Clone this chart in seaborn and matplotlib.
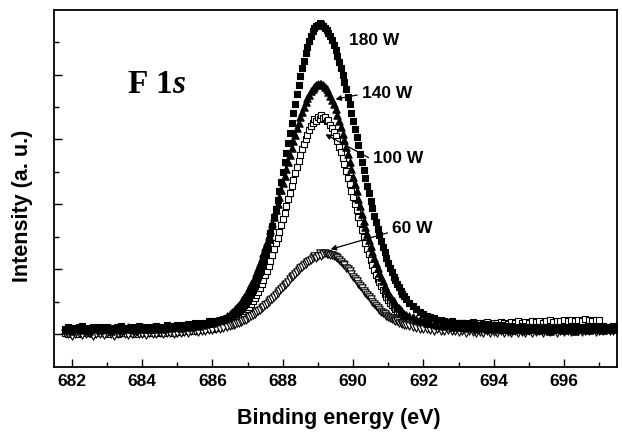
#!/usr/bin/env python3
"""F 1s XPS spectra for films deposited at different RF powers."""

import matplotlib

matplotlib.use("Agg")
import matplotlib.pyplot as plt
import numpy as np
import pandas as pd
import seaborn as sns

nan = np.nan

# binding energy grid (eV): 0.1 eV in the tails, 0.05 eV across the peak
ENERGY = [
    681.8, 681.9, 682.0, 682.1, 682.2, 682.3, 682.4, 682.5, 682.6, 682.7,
    682.8, 682.9, 683.0, 683.1, 683.2, 683.3, 683.4, 683.5, 683.6, 683.7,
    683.8, 683.9, 684.0, 684.1, 684.2, 684.3, 684.4, 684.5, 684.6, 684.7,
    684.8, 684.9, 685.0, 685.1, 685.2, 685.3, 685.4, 685.5, 685.6, 685.7,
    685.8, 685.9, 686.0, 686.1, 686.2, 686.3, 686.4,
    686.50, 686.55, 686.60, 686.65, 686.70, 686.75, 686.80, 686.85, 686.90, 686.95,
    687.00, 687.05, 687.10, 687.15, 687.20, 687.25, 687.30, 687.35, 687.40, 687.45,
    687.50, 687.55, 687.60, 687.65, 687.70, 687.75, 687.80, 687.85, 687.90, 687.95,
    688.00, 688.05, 688.10, 688.15, 688.20, 688.25, 688.30, 688.35, 688.40, 688.45,
    688.50, 688.55, 688.60, 688.65, 688.70, 688.75, 688.80, 688.85, 688.90, 688.95,
    689.00, 689.05, 689.10, 689.15, 689.20, 689.25, 689.30, 689.35, 689.40, 689.45,
    689.50, 689.55, 689.60, 689.65, 689.70, 689.75, 689.80, 689.85, 689.90, 689.95,
    690.00, 690.05, 690.10, 690.15, 690.20, 690.25, 690.30, 690.35, 690.40, 690.45,
    690.50, 690.55, 690.60, 690.65, 690.70, 690.75, 690.80, 690.85, 690.90, 690.95,
    691.00, 691.05, 691.10, 691.15, 691.20, 691.25, 691.30, 691.35, 691.40, 691.45,
    691.50,
    691.6, 691.7, 691.8, 691.9, 692.0, 692.1, 692.2, 692.3, 692.4, 692.5,
    692.6, 692.7, 692.8, 692.9, 693.0, 693.1, 693.2, 693.3, 693.4, 693.5,
    693.6, 693.7, 693.8, 693.9, 694.0, 694.1, 694.2, 694.3, 694.4, 694.5,
    694.6, 694.7, 694.8, 694.9, 695.0, 695.1, 695.2, 695.3, 695.4, 695.5,
    695.6, 695.7, 695.8, 695.9, 696.0, 696.1, 696.2, 696.3, 696.4, 696.5,
    696.6, 696.7, 696.8, 696.9, 697.0, 697.1, 697.2, 697.3, 697.4, 697.5,
]

I_180W = [
    0.09, 0.12, 0.10, 0.08, 0.11, 0.13, 0.09, 0.10, 0.12, 0.08,
    0.11, 0.09, 0.12, 0.10, 0.08, 0.11, 0.13, 0.10, 0.09, 0.12,
    0.10, 0.13, 0.11, 0.09, 0.12, 0.10, 0.13, 0.12, 0.10, 0.14,
    0.12, 0.13, 0.15, 0.13, 0.14, 0.16, 0.15, 0.17, 0.16, 0.18,
    0.18, 0.20, 0.20, 0.21, 0.22, 0.24, 0.26,
    0.28, 0.29, 0.31, 0.32, 0.34, 0.36, 0.39, 0.42, 0.45, 0.49,
    0.53, 0.58, 0.63, 0.68, 0.74, 0.81, 0.88, 0.96, 1.05, 1.14,
    1.23, 1.33, 1.45, 1.56, 1.67, 1.80, 1.93, 2.07, 2.21, 2.35,
    2.50, 2.65, 2.79, 2.95, 3.10, 3.25, 3.41, 3.55, 3.70, 3.84,
    3.97, 4.10, 4.21, 4.33, 4.43, 4.51, 4.60, 4.67, 4.71, 4.74,
    4.76, 4.79, 4.77, 4.75, 4.72, 4.69, 4.64, 4.60, 4.53, 4.46,
    4.37, 4.29, 4.20, 4.10, 3.99, 3.89, 3.78, 3.66, 3.54, 3.41,
    3.29, 3.16, 3.04, 2.91, 2.78, 2.65, 2.53, 2.41, 2.29, 2.17,
    2.06, 1.94, 1.83, 1.73, 1.63, 1.53, 1.44, 1.35, 1.27, 1.18,
    1.10, 1.03, 0.96, 0.89, 0.84, 0.78, 0.73, 0.67, 0.63, 0.59,
    0.55,
    0.49, 0.44, 0.39, 0.35, 0.31, 0.29, 0.27, 0.25, 0.23, 0.22,
    0.21, 0.19, 0.20, 0.18, 0.17, 0.18, 0.16, 0.15, 0.17, 0.15,
    0.14, 0.16, 0.13, 0.15, 0.14, 0.12, 0.14, 0.13, 0.11, 0.13,
    0.12, 0.10, 0.13, 0.11, 0.12, 0.10, 0.12, 0.11, 0.09, 0.12,
    0.10, 0.12, 0.11, 0.09, 0.12, 0.10, 0.13, 0.11, 0.10, 0.12,
    0.11, 0.13, 0.10, 0.12, 0.11, 0.13, 0.10, 0.12, 0.13, 0.11,
]

I_140W = [
    0.07, 0.09, 0.06, 0.08, 0.10, 0.07, 0.09, 0.06, 0.08, 0.10,
    0.07, 0.09, 0.08, 0.06, 0.10, 0.08, 0.07, 0.09, 0.11, 0.08,
    0.07, 0.09, 0.10, 0.08, 0.09, 0.11, 0.08, 0.10, 0.09, 0.11,
    0.10, 0.12, 0.11, 0.10, 0.12, 0.13, 0.12, 0.14, 0.13, 0.15,
    0.16, 0.17, 0.18, 0.20, 0.22, 0.24, 0.28,
    0.32, 0.34, 0.36, 0.39, 0.42, 0.45, 0.49, 0.53, 0.57, 0.61,
    0.66, 0.72, 0.77, 0.83, 0.89, 0.95, 1.02, 1.10, 1.17, 1.25,
    1.34, 1.43, 1.52, 1.61, 1.71, 1.80, 1.91, 2.01, 2.12, 2.23,
    2.33, 2.44, 2.55, 2.66, 2.76, 2.87, 2.97, 3.07, 3.17, 3.26,
    3.35, 3.43, 3.50, 3.57, 3.64, 3.69, 3.75, 3.78, 3.81, 3.84,
    3.85, 3.86, 3.85, 3.84, 3.81, 3.78, 3.73, 3.67, 3.61, 3.54,
    3.47, 3.38, 3.29, 3.19, 3.09, 2.99, 2.88, 2.77, 2.65, 2.54,
    2.43, 2.31, 2.20, 2.08, 1.97, 1.86, 1.75, 1.65, 1.55, 1.45,
    1.36, 1.27, 1.18, 1.10, 1.02, 0.95, 0.88, 0.82, 0.75, 0.70,
    0.64, 0.59, 0.55, 0.51, 0.47, 0.43, 0.40, 0.37, 0.34, 0.32,
    0.30,
    0.29, 0.27, 0.24, 0.22, 0.20, 0.18, 0.17, 0.16, 0.15, 0.15,
    0.13, 0.14, 0.12, 0.13, 0.11, 0.12, 0.10, 0.12, 0.11, 0.09,
    0.11, 0.10, 0.08, 0.10, 0.09, 0.11, 0.08, 0.09, 0.10, 0.07,
    0.09, 0.08, 0.10, 0.07, 0.09, 0.08, 0.10, 0.07, 0.09, 0.08,
    0.06, 0.09, 0.08, 0.10, 0.07, 0.09, 0.08, 0.06, 0.09, 0.08,
    0.10, 0.07, 0.09, 0.08, 0.10, 0.07, 0.09, 0.08, 0.10, 0.09,
]

I_100W = [
    0.03, 0.01, 0.04, 0.02, 0.00, 0.03, 0.05, 0.02, 0.01, 0.04,
    0.02, 0.03, 0.00, 0.04, 0.02, 0.01, 0.03, 0.05, 0.02, 0.03,
    0.01, 0.04, 0.03, 0.02, 0.05, 0.03, 0.02, 0.04, 0.03, 0.05,
    0.04, 0.03, 0.05, 0.04, 0.06, 0.05, 0.07, 0.06, 0.07, 0.08,
    0.08, 0.09, 0.09, 0.10, 0.11, 0.13, 0.14,
    0.17, 0.18, 0.20, 0.21, 0.23, 0.26, 0.28, 0.30, 0.33, 0.36,
    0.39, 0.43, 0.47, 0.51, 0.56, 0.61, 0.66, 0.72, 0.78, 0.84,
    0.91, 0.98, 1.06, 1.13, 1.22, 1.31, 1.40, 1.49, 1.58, 1.68,
    1.77, 1.87, 1.98, 2.08, 2.18, 2.28, 2.38, 2.48, 2.58, 2.67,
    2.76, 2.85, 2.93, 3.01, 3.07, 3.14, 3.20, 3.25, 3.31, 3.29,
    3.35, 3.32, 3.37, 3.33, 3.35, 3.29, 3.30, 3.23, 3.18, 3.12,
    3.05, 2.98, 2.89, 2.81, 2.71, 2.62, 2.52, 2.41, 2.31, 2.21,
    2.12, 2.01, 1.91, 1.80, 1.71, 1.60, 1.50, 1.41, 1.32, 1.24,
    1.15, 1.07, 0.99, 0.92, 0.85, 0.80, 0.74, 0.68, 0.62, 0.57,
    0.53, 0.49, 0.46, 0.42, 0.39, 0.36, 0.34, 0.31, 0.30, 0.28,
    0.26,
    0.23, 0.21, 0.20, 0.18, 0.17, 0.18, 0.16, 0.17, 0.15, 0.17,
    0.16, 0.18, 0.15, 0.17, 0.16, 0.18, 0.17, 0.15, 0.19, 0.16,
    0.18, 0.17, 0.19, 0.16, 0.18, 0.17, 0.19, 0.18, 0.16, 0.19,
    0.18, 0.20, 0.17, 0.19, 0.18, 0.20, 0.19, 0.21, 0.18, 0.20,
    0.22, 0.19, 0.21, 0.20, 0.23, 0.21, 0.22, 0.20, 0.23, 0.21,
    0.24, 0.22, 0.21, 0.23, 0.22, nan, nan, nan, nan, nan,
]

I_60W = [
    0.03, 0.00, -0.02, 0.01, 0.02, -0.01, 0.00, 0.02, -0.02, 0.01,
    0.00, -0.01, 0.02, 0.00, -0.02, 0.01, 0.02, 0.00, -0.01, 0.01,
    0.02, 0.00, 0.01, -0.01, 0.02, 0.01, 0.00, 0.02, 0.01, 0.03,
    0.02, 0.01, 0.03, 0.02, 0.04, 0.03, 0.05, 0.05, 0.04, 0.06,
    0.06, 0.07, 0.07, 0.08, 0.09, 0.10, 0.11,
    0.13, 0.14, 0.15, 0.16, 0.17, 0.18, 0.19, 0.20, 0.22, 0.23,
    0.25, 0.27, 0.28, 0.30, 0.32, 0.34, 0.36, 0.38, 0.40, 0.43,
    0.45, 0.47, 0.50, 0.53, 0.55, 0.58, 0.61, 0.64, 0.67, 0.70,
    0.73, 0.76, 0.78, 0.81, 0.85, 0.88, 0.90, 0.93, 0.96, 0.99,
    1.02, 1.04, 1.07, 1.09, 1.11, 1.13, 1.15, 1.17, 1.21, 1.18,
    1.21, 1.25, 1.21, 1.24, 1.26, 1.24, 1.24, 1.23, 1.22, 1.21,
    1.19, 1.17, 1.15, 1.12, 1.09, 1.07, 1.03, 1.00, 0.97, 0.93,
    0.89, 0.86, 0.82, 0.78, 0.75, 0.71, 0.67, 0.64, 0.60, 0.57,
    0.54, 0.50, 0.47, 0.44, 0.41, 0.38, 0.35, 0.33, 0.31, 0.29,
    0.27, 0.25, 0.24, 0.22, 0.21, 0.20, 0.18, 0.17, 0.16, 0.15,
    0.14,
    0.13, 0.11, 0.10, 0.09, 0.08, 0.09, 0.07, 0.06, 0.08, 0.06,
    0.05, 0.07, 0.05, 0.06, 0.04, 0.05, 0.03, 0.05, 0.04, 0.02,
    0.04, 0.03, 0.05, 0.02, 0.04, 0.03, 0.05, 0.02, 0.04, 0.03,
    0.05, 0.03, 0.04, 0.02, 0.05, 0.03, 0.04, 0.06, 0.03, 0.05,
    0.04, 0.06, 0.03, 0.05, 0.04, 0.06, 0.04, 0.05, 0.07, 0.04,
    0.06, 0.05, 0.07, 0.04, 0.06, 0.05, 0.07, 0.06, 0.05, 0.07,
]

# power label, text position, arrow head (None = no arrow), arrow start on text
LABELS = ["180 W", "140 W", "100 W", "60 W"]
LABEL_XY = [(689.89, 4.52), (690.25, 3.71), (690.57, 2.71), (691.11, 1.63)]
ARROW_TO = [None, (689.50, 3.62), (689.21, 3.08), (689.36, 1.31)]
ARROW_REL = [None, 0.45, 0.38, 0.3]


def main() -> None:
    sns.set_style("ticks")
    plt.rcParams.update(
        {
            "font.family": ["Liberation Sans", "DejaVu Sans"],
            "font.weight": "bold",
            "axes.labelweight": "bold",
            "axes.linewidth": 1.3,
            "text.color": "black",
            "axes.labelcolor": "black",
            "axes.edgecolor": "black",
            "xtick.color": "black",
            "ytick.color": "black",
            "xtick.direction": "in",
            "ytick.direction": "in",
            "mathtext.fontset": "custom",
            "mathtext.rm": "Liberation Serif:bold",
            "mathtext.it": "Liberation Serif:italic:bold",
        }
    )
    frame = pd.DataFrame(
        {"energy": ENERGY, "180 W": I_180W, "140 W": I_140W, "100 W": I_100W, "60 W": I_60W}
    )

    fig = plt.figure(figsize=(6.22, 4.32), dpi=100)
    ax = fig.add_axes([0.0873, 0.1505, 0.9042, 0.8275])

    styles = {
        "100 W": dict(marker="s", color="white", s=24),
        "60 W": dict(marker="v", color="white", s=28),
        "140 W": dict(marker="^", color="black", s=28),
        "180 W": dict(marker="s", color="black", s=24),
    }
    for name, style in styles.items():
        sns.scatterplot(
            data=frame, x="energy", y=name, edgecolor="black", linewidth=0.8,
            ax=ax, legend=False, zorder=3, **style,
        )

    for text, xy, head, rel in zip(LABELS, LABEL_XY, ARROW_TO, ARROW_REL):
        if head is None:
            ax.text(xy[0], xy[1], text, ha="left", va="center", fontsize=12.5, fontweight="bold")
        else:
            ax.annotate(
                text, xy=head, xytext=xy, ha="left", va="center",
                fontsize=12.5, fontweight="bold",
                arrowprops=dict(arrowstyle="-|>", color="black", lw=0.9,
                                mutation_scale=8, relpos=(0, rel), shrinkA=1, shrinkB=0),
                zorder=5,
            )

    ax.text(683.56, 3.72, r"F 1$s$", fontsize=24, fontweight="bold",
            family="Liberation Serif", ha="left", va="baseline")

    ax.set_xlim(681.5, 697.5)
    ax.set_ylim(-0.5, 5.0)
    ax.set_xticks([682, 684, 686, 688, 690, 692, 694, 696])
    ax.set_xticks([683, 685, 687, 689, 691, 693, 695, 697], minor=True)
    ax.set_yticks([0, 1, 2, 3, 4])
    ax.set_yticks([0.5, 1.5, 2.5, 3.5, 4.5], minor=True)
    ax.set_yticklabels([])
    ax.tick_params(axis="x", which="major", length=6, width=1.0, pad=5, labelsize=12.5)
    ax.tick_params(axis="x", which="minor", length=3.5, width=1.0)
    ax.tick_params(axis="y", which="major", length=6, width=1.0)
    ax.tick_params(axis="y", which="minor", length=3.5, width=1.0)
    ax.grid(False)

    ax.set_xlabel("Binding energy (eV)", fontsize=15.5, fontweight="bold")
    ax.set_ylabel("Intensity (a. u.)", fontsize=15.5, fontweight="bold")
    ax.xaxis.set_label_coords(0.506, -0.115)
    ax.yaxis.set_label_coords(-0.037, 0.452)
    ax.xaxis.label.set_va("top")

    fig.savefig("out.png", dpi=100, facecolor="white")
    plt.close(fig)


if __name__ == "__main__":
    main()
